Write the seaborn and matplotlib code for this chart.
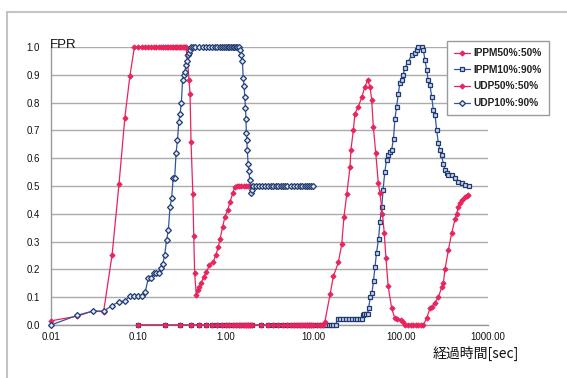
import matplotlib
matplotlib.use("Agg")
import matplotlib.pyplot as plt
import seaborn as sns
from matplotlib.patches import Rectangle
from matplotlib.ticker import NullLocator

# series names
series_names = ["IPPM50%:50%", "IPPM10%:90%", "UDP50%:50%", "UDP10%:90%"]

# shared flat parts
udp_flat_x = [2.2, 2.4, 2.6, 2.8, 3.0, 3.25, 3.5, 3.75, 4.0, 4.25, 4.5, 4.75,
              5.0, 5.5, 6.0, 6.5, 7.0, 7.5, 8.0, 8.5, 9.0, 9.5, 10.0]
udp_flat_y = [0.5, 0.5, 0.5, 0.5, 0.5, 0.5, 0.5, 0.5, 0.5, 0.5, 0.5, 0.5,
              0.5, 0.5, 0.5, 0.5, 0.5, 0.5, 0.5, 0.5, 0.5, 0.5, 0.5]

ippm_zero_x = [0.1, 0.2, 0.3, 0.4, 0.5, 0.6, 0.7, 0.8, 0.9, 1.0,
               1.1, 1.2, 1.3, 1.4, 1.5, 1.6, 1.7, 1.8, 1.9, 2.0,
               2.5, 3.0, 3.5, 4.0, 4.5, 5.0, 5.5, 6.0, 6.5, 7.0,
               7.5, 8.0, 8.5, 9.0, 9.5, 10.0, 11.0, 12.0, 13.0]
ippm_zero_y = [0, 0, 0, 0, 0, 0, 0, 0, 0, 0,
               0, 0, 0, 0, 0, 0, 0, 0, 0, 0,
               0, 0, 0, 0, 0, 0, 0, 0, 0, 0,
               0, 0, 0, 0, 0, 0, 0, 0, 0]

# UDP 50%:50%
udp50_x = [0.01, 0.02, 0.03, 0.04, 0.05, 0.06, 0.07, 0.08,
           0.09, 0.10, 0.11, 0.12, 0.13, 0.14, 0.15, 0.16, 0.17, 0.18,
           0.19, 0.20, 0.21, 0.22, 0.23, 0.24, 0.25, 0.26, 0.27, 0.28,
           0.29, 0.30, 0.31, 0.32, 0.33, 0.34, 0.35,
           0.36, 0.38, 0.39, 0.40, 0.42, 0.43, 0.44, 0.46,
           0.48, 0.50, 0.52, 0.56, 0.60, 0.65, 0.72, 0.77, 0.82, 0.86,
           0.92, 0.98, 1.05, 1.12, 1.20, 1.27, 1.35,
           1.4, 1.5, 1.6, 1.7, 1.8, 1.9, 2.0] + udp_flat_x
udp50_y = [0.015, 0.032, 0.05, 0.048, 0.252, 0.507, 0.746, 0.897,
           1.0, 1.0, 1.0, 1.0, 1.0, 1.0, 1.0, 1.0, 1.0, 1.0,
           1.0, 1.0, 1.0, 1.0, 1.0, 1.0, 1.0, 1.0, 1.0, 1.0,
           1.0, 1.0, 1.0, 1.0, 1.0, 1.0, 1.0,
           0.97, 0.88, 0.83, 0.66, 0.47, 0.32, 0.186, 0.108,
           0.126, 0.138, 0.15, 0.174, 0.19, 0.216, 0.228, 0.252, 0.28, 0.31,
           0.354, 0.39, 0.414, 0.443, 0.474, 0.497, 0.5,
           0.5, 0.5, 0.5, 0.5, 0.5, 0.5, 0.5] + udp_flat_y

# UDP 10%:90%
udp10_x = [0.01, 0.02, 0.03, 0.04, 0.05, 0.06, 0.07, 0.08, 0.09, 0.10,
           0.11, 0.12, 0.13, 0.14, 0.15, 0.16, 0.17, 0.18, 0.19, 0.20,
           0.21, 0.22, 0.23, 0.24, 0.25, 0.26, 0.27, 0.28, 0.29, 0.30,
           0.31, 0.32, 0.33, 0.34, 0.35, 0.36, 0.37, 0.38, 0.39, 0.40,
           0.42, 0.45, 0.50, 0.55, 0.60, 0.65, 0.70, 0.75, 0.80, 0.85,
           0.90, 0.95, 1.00, 1.05, 1.10, 1.15, 1.20, 1.25, 1.30, 1.35, 1.40,
           1.45, 1.50, 1.55, 1.58, 1.62, 1.65, 1.68, 1.70, 1.72, 1.74,
           1.76, 1.80, 1.84, 1.88, 1.96, 2.00, 2.06] + udp_flat_x
udp10_y = [0.0, 0.035, 0.05, 0.05, 0.07, 0.084, 0.086, 0.104, 0.104, 0.104,
           0.104, 0.12, 0.17, 0.17, 0.186, 0.188, 0.186, 0.204, 0.22, 0.252,
           0.306, 0.34, 0.425, 0.456, 0.528, 0.528, 0.62, 0.665, 0.73, 0.76,
           0.80, 0.88, 0.90, 0.91, 0.935, 0.95, 0.97, 0.98, 0.99, 1.0,
           1.0, 1.0, 1.0, 1.0, 1.0, 1.0, 1.0, 1.0, 1.0, 1.0,
           1.0, 1.0, 1.0, 1.0, 1.0, 1.0, 1.0, 1.0, 1.0, 1.0, 1.0,
           0.99, 0.97, 0.95, 0.89, 0.86, 0.82, 0.78, 0.74, 0.69, 0.665,
           0.63, 0.58, 0.555, 0.52, 0.475, 0.485, 0.5] + udp_flat_y

# IPPM 50%:50%
ippm50_x = ippm_zero_x + [
    13.6, 15.6, 17.0, 19.4, 21.2, 22.5, 24.2, 26.4, 27.0, 28.8,
    30.0, 32.8, 36.0, 39.0, 42.0, 44.7, 46.7, 48.7, 52.0, 55.6,
    58.0, 62.0, 65.0, 68.0, 72.0, 79.0, 86.0, 90.0, 100.0, 107.0,
    112.0, 120.0, 130.0, 140.0, 150.0, 160.0, 170.0, 182.0,
    199.0, 217.0, 227.0, 248.0, 270.0, 295.0, 308.0, 322.0, 352.0, 384.0,
    419.0, 438.0, 457.0, 478.0, 500.0, 546.0, 570.0, 596.0]
ippm50_y = ippm_zero_y + [
    0.012, 0.11, 0.175, 0.225, 0.29, 0.39, 0.47, 0.57, 0.63, 0.70,
    0.76, 0.785, 0.82, 0.857, 0.88, 0.857, 0.81, 0.714, 0.617, 0.51,
    0.474, 0.40, 0.33, 0.24, 0.14, 0.06, 0.024, 0.02, 0.018, 0.012,
    0.0, 0.0, 0.0, 0.0, 0.0, 0.0, 0.0, 0.0,
    0.025, 0.06, 0.065, 0.08, 0.10, 0.135, 0.15, 0.20, 0.27, 0.33,
    0.38, 0.40, 0.425, 0.44, 0.45, 0.46, 0.465, 0.468]

# IPPM 10%:90%
ippm10_x = ippm_zero_x + [
    14.0, 15.0, 16.0, 17.0, 18.0, 19.0, 20.0, 22.0, 24.0, 26.0,
    28.0, 30.0, 32.0, 34.0, 36.0, 37.0, 38.0, 40.0, 42.0, 43.0,
    45.0, 47.0, 49.0, 51.0, 53.0, 56.0, 58.0, 61.0, 63.0, 66.0,
    69.0, 72.0, 76.0, 79.0, 83.0, 86.0, 90.0, 94.0, 98.0, 103.0,
    107.0, 112.0, 122.0, 134.0, 146.0, 153.0, 160.0, 174.0, 182.0, 190.0,
    199.0, 207.0, 217.0, 227.0, 237.0, 248.0, 259.0, 270.0, 282.0, 295.0,
    308.0, 322.0, 337.0, 352.0, 384.0, 419.0, 457.0, 500.0, 546.0, 600.0]
ippm10_y = ippm_zero_y + [
    0.0, 0.0, 0.0, 0.0, 0.0, 0.02, 0.02, 0.02, 0.02, 0.02,
    0.02, 0.02, 0.02, 0.02, 0.02, 0.035, 0.04, 0.04, 0.04, 0.06,
    0.10, 0.114, 0.16, 0.21, 0.26, 0.31, 0.37, 0.425, 0.486, 0.55,
    0.594, 0.61, 0.623, 0.63, 0.67, 0.74, 0.785, 0.83, 0.87, 0.88,
    0.90, 0.925, 0.947, 0.97, 0.98, 0.99, 1.0, 1.0, 0.99, 0.953,
    0.917, 0.88, 0.863, 0.82, 0.773, 0.755, 0.70, 0.654, 0.63, 0.61,
    0.58, 0.558, 0.546, 0.54, 0.54, 0.528, 0.515, 0.51, 0.504, 0.5]

x_ticks = [0.01, 0.1, 1, 10, 100, 1000]
x_tick_labels = ["0.01", "0.10", "1.00", "10.00", "100.00", "1000.00"]
y_ticks = [0.0, 0.1, 0.2, 0.3, 0.4, 0.5, 0.6, 0.7, 0.8, 0.9, 1.0]
y_tick_labels = ["0.0", "0.1", "0.2", "0.3", "0.4", "0.5", "0.6", "0.7", "0.8", "0.9", "1.0"]

red = "#E8245C"
navy = "#1E3A70"
blue_line = "#3553A3"

sns.set_theme(style="white")
plt.rcParams["font.family"] = ["Liberation Sans", "DejaVu Sans"]

fig = plt.figure(figsize=(5.67, 3.78), dpi=100)
ax = fig.add_axes([51 / 567, 1 - 325 / 378, (488 - 51) / 567, (325 - 47) / 378])

common = dict(ax=ax, estimator=None, sort=False, lw=0.9, clip_on=False)
sns.lineplot(x=ippm10_x, y=ippm10_y, color=blue_line, marker="s", markersize=2.8,
             markerfacecolor="#c9d3ea", markeredgecolor=navy, markeredgewidth=0.9,
             label=series_names[1], zorder=3, **common)
sns.lineplot(x=ippm50_x, y=ippm50_y, color=red, marker="D", markersize=2.7,
             markerfacecolor=red, markeredgecolor=red, markeredgewidth=0.6,
             label=series_names[0], zorder=4, **common)
sns.lineplot(x=udp50_x, y=udp50_y, color=red, marker="D", markersize=2.7,
             markerfacecolor=red, markeredgecolor=red, markeredgewidth=0.6,
             label=series_names[2], zorder=4, **common)
sns.lineplot(x=udp10_x, y=udp10_y, color=blue_line, marker="D", markersize=3.0,
             markerfacecolor="#dfe6f4", markeredgecolor=navy, markeredgewidth=0.9,
             label=series_names[3], zorder=5, **common)

ax.set_xscale("log")
ax.set_xlim(0.01, 1000)
ax.set_ylim(0, 1.0)
ax.set_xticks(x_ticks)
ax.set_xticklabels(x_tick_labels)
ax.xaxis.set_minor_locator(NullLocator())
ax.set_yticks(y_ticks)
ax.set_yticklabels(y_tick_labels)
ax.set_xlabel("")
ax.set_ylabel("")

ax.yaxis.grid(True, color="#ababab", lw=1.0)
ax.xaxis.grid(False)
ax.set_axisbelow(True)
for side in ["top", "right"]:
    ax.spines[side].set_visible(False)
for side in ["left", "bottom"]:
    ax.spines[side].set_color("#9a9a9a")
    ax.spines[side].set_linewidth(1.0)

ax.tick_params(axis="x", direction="in", length=3, color="#9a9a9a", pad=5,
               labelsize=7, labelcolor="#111111")
ax.tick_params(axis="y", length=0, pad=8, labelsize=7, labelcolor="#111111")

# legend in Excel order
handles, labels = ax.get_legend_handles_labels()
order = [labels.index(n) for n in series_names]
leg = ax.legend([handles[i] for i in order], [labels[i] for i in order],
                loc="upper left", bbox_to_anchor=(447 / 567, 1 - 41 / 378),
                bbox_transform=fig.transFigure, frameon=True, fancybox=False,
                edgecolor="#9a9a9a", framealpha=1,
                prop={"size": 7.3, "weight": "bold"}, handlelength=1.6,
                handletextpad=0.35, labelspacing=0.66, borderpad=0.7,
                borderaxespad=0)
leg.get_frame().set_linewidth(1.0)
for t in leg.get_texts():
    t.set_color("#222222")
leg.set_zorder(10)

fig.text(50 / 567, 1 - 48 / 378, "FPR", fontsize=9.5, va="baseline", ha="left",
         color="#111111")
fig.text(433 / 567, 1 - 353 / 378, "経過時間[sec]", fontsize=10, va="center", ha="left",
         family=["Noto Sans CJK JP", "DejaVu Sans"], color="#111111")

# outer chart border (only left and top fall inside the image)
fig.add_artist(Rectangle((7 / 567, -0.02), 1.0, 1 - 12 / 378 + 0.02,
                         transform=fig.transFigure, fill=False,
                         edgecolor="#c4c4c4", lw=1.5))

fig.savefig("out.png", dpi=100)
